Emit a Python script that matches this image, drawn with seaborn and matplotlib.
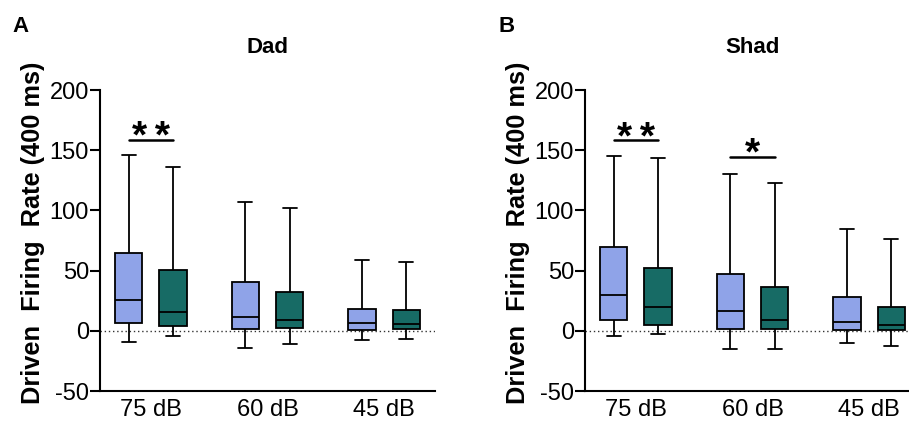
import matplotlib
matplotlib.use("Agg")
import matplotlib.pyplot as plt
import seaborn as sns
import pandas as pd

# categories / groups
levels = ["75 dB", "60 dB", "45 dB"]
groups = ["Group 1", "Group 2"]
colors = ["#8FA3E8", "#176B65"]

# five-number summaries per box: [min, q1, median, q3, max]
dad_g1 = [[-8.9, 6.4, 25.5, 64.8, 146.0],
          [-14.1, 1.9, 11.4, 40.7, 107.2],
          [-7.5, 0.8, 6.4, 18.3, 59.0]]
dad_g2 = [[-4.4, 4.4, 15.8, 50.7, 135.7],
          [-10.8, 2.2, 8.6, 31.9, 101.7],
          [-6.6, 1.4, 5.3, 16.9, 57.3]]
shad_g1 = [[-4.4, 8.9, 29.9, 69.3, 145.2],
           [-14.7, 1.9, 16.6, 46.8, 130.5],
           [-10.2, 0.8, 7.5, 28.0, 84.2]]
shad_g2 = [[-2.8, 5.0, 20.2, 52.1, 143.8],
           [-15.0, 1.1, 9.4, 36.8, 122.7],
           [-12.2, 0.3, 4.7, 20.2, 76.2]]

# significance marks: (level index, bar height, label)
dad_sig = [(0, 158.5, "*\u2009*")]
shad_sig = [(0, 158.2, "*\u2009*"), (1, 144.8, "*")]


def make_df(g1, g2):
    rows = []
    for grp, summ in zip(groups, [g1, g2]):
        for lev, vals in zip(levels, summ):
            for v in vals:
                rows.append({"level": lev, "group": grp, "rate": v})
    return pd.DataFrame(rows)


sns.set_style("ticks")
plt.rcParams["font.family"] = ["Liberation Sans", "DejaVu Sans"]
plt.rcParams["axes.unicode_minus"] = False
for k in ["text.color", "axes.labelcolor", "xtick.color", "ytick.color",
          "axes.edgecolor"]:
    plt.rcParams[k] = "black"

fig = plt.figure(figsize=(9.09, 4.25), dpi=100)

W = 0.76
GAP = 0.38
off = W / 4


def draw_panel(ax, df, sig, title):
    sns.boxplot(data=df, x="level", y="rate", hue="group", order=levels,
                hue_order=groups, palette=colors, saturation=1,
                whis=(0, 100), width=W, gap=GAP, linecolor="black",
                linewidth=1.3, showfliers=False, legend=False, ax=ax)
    ax.axhline(0, color="#333333", linestyle=(0, (1, 2)), linewidth=1.0, zorder=0)
    ax.set_xlim(-0.436, 2.436)
    ax.set_ylim(-50, 200)
    ax.set_yticks([-50, 0, 50, 100, 150, 200])
    ax.set_xlabel("")
    ax.set_ylabel("Driven  Firing  Rate (400 ms)", fontsize=18.3,
                  fontweight="bold")
    ax.yaxis.set_label_coords(-0.165, 0.525)
    ax.set_title(title, fontsize=16, fontweight="bold", pad=27)
    ax.tick_params(axis="y", labelsize=17, length=7, width=1.5, pad=1)
    ax.tick_params(axis="x", labelsize=17, length=0, pad=6)
    for s in ["top", "right"]:
        ax.spines[s].set_visible(False)
    for s in ["left", "bottom"]:
        ax.spines[s].set_linewidth(1.5)
    for i, h, lab in sig:
        ax.plot([i - off, i + off], [h, h], color="black", linewidth=1.8)
        ax.text(i, h - 7, lab, ha="center", va="baseline", fontsize=28,
                fontweight="bold")


ax1 = fig.add_axes([0.110, 0.080, 0.3685, 0.708])
draw_panel(ax1, make_df(dad_g1, dad_g2), dad_sig, "Dad")

ax2 = fig.add_axes([0.6436, 0.080, 0.3685, 0.708])
draw_panel(ax2, make_df(shad_g1, shad_g2), shad_sig, "Shad")

fig.text(0.014, 0.925, "A", fontsize=16, fontweight="bold")
fig.text(0.548, 0.925, "B", fontsize=16, fontweight="bold")

fig.savefig("out.png", dpi=100)
